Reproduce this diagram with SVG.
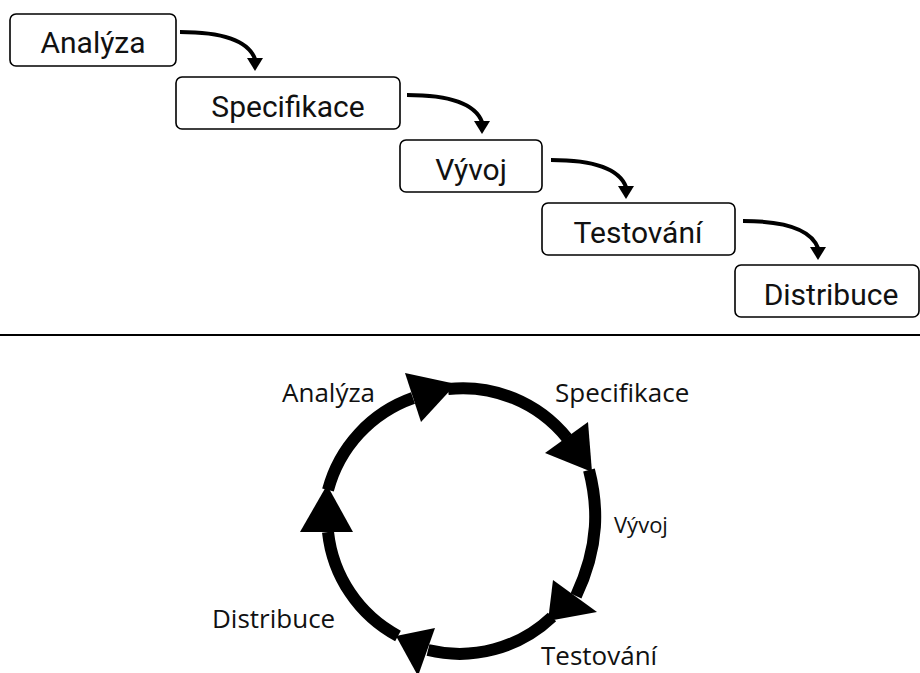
<svg xmlns="http://www.w3.org/2000/svg" width="920" height="673" viewBox="0 0 920 673">
<style>
.box{fill:#fff;stroke:#000;stroke-width:1.6}
.t{font-family:Roboto,"Liberation Sans",sans-serif;font-size:30px;font-weight:400;fill:#111;text-anchor:middle}
.c{fill:none;stroke:#000;stroke-width:4}
.ah{fill:#000}
.ring{fill:none;stroke:#000;stroke-width:12}
.lb{font-family:"Open Sans","Noto Sans",sans-serif;font-size:26px;font-weight:400;fill:#111}
</style>
<rect width="920" height="673" fill="#fff"/>
<g id="analyza"><rect class="box" x="10" y="14" width="166" height="52" rx="6"/><text class="t" x="93" y="53">Analýza</text></g>
<g id="specifikace"><rect class="box" x="176" y="77" width="224" height="52" rx="6"/><text class="t" x="288" y="117">Specifikace</text></g>
<g id="vyvoj"><rect class="box" x="400" y="140" width="142" height="52" rx="6"/><text class="t" x="471" y="180">Vývoj</text></g>
<g id="testovani"><rect class="box" x="542" y="203" width="193" height="52" rx="6"/><text class="t" x="638" y="243">Testování</text></g>
<g id="distribuce"><rect class="box" x="735" y="265" width="184" height="52" rx="6"/><text class="t" x="831" y="305">Distribuce</text></g>
<g id="connectors">
<path class="c" d="M180,32 C220,32 248,40 255,59"/><polygon class="ah" points="247,58 263,58 255,71"/>
<path class="c" d="M407,95 C447,95 475,103 482,122"/><polygon class="ah" points="474,121 490,121 482,134"/>
<path class="c" d="M551,160 C591,160 619,168 626,187"/><polygon class="ah" points="618,186 634,186 626,199"/>
<path class="c" d="M743,221 C783,221 811,229 818,248"/><polygon class="ah" points="810,247 826,247 818,260"/>
</g>
<line x1="0" y1="335" x2="920" y2="335" stroke="#000" stroke-width="2"/>
<g id="cycle">
<path class="ring" d="M448,389 A134 134 0 0 1 567,438"/>
<path class="ring" d="M589,470 C598,505 600,545 576,596"/>
<path class="ring" d="M552,617 A134 134 0 0 1 428,650"/>
<path class="ring" d="M398,636 A134 134 0 0 1 328,532"/>
<path class="ring" d="M328,490 A134 134 0 0 1 413,398"/>
<polygon class="ah" points="405,373 421,422 456,384"/>
<polygon class="ah" points="588,422 545,453 592,472"/>
<polygon class="ah" points="553,580 597,612 548,621"/>
<polygon class="ah" points="435,628 418,676 396,636"/>
<polygon class="ah" points="300,532 353,532 327,485"/>
</g>
<g id="labels">
<text class="lb" x="282" y="402">Analýza</text>
<text class="lb" x="555" y="402">Specifikace</text>
<text class="lb" x="614" y="533" style="font-size:22px">Vývoj</text>
<text class="lb" x="212" y="628">Distribuce</text>
<text class="lb" x="541" y="665">Testování</text>
</g>
</svg>
